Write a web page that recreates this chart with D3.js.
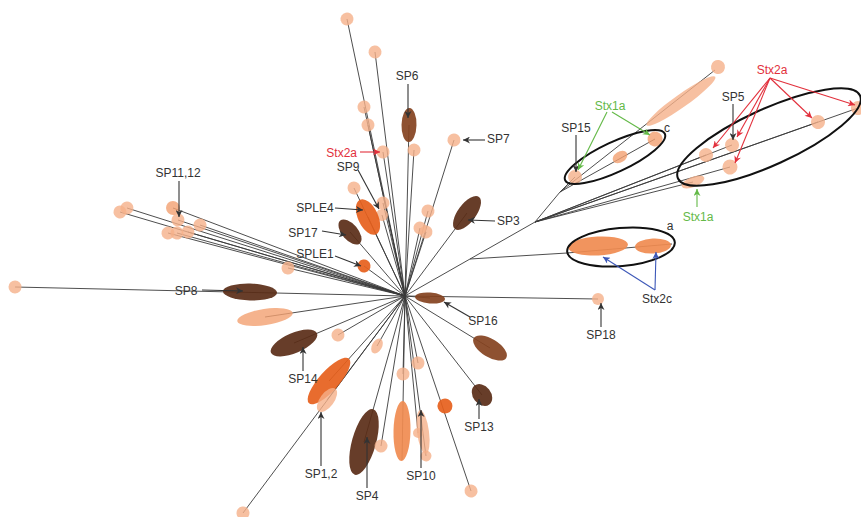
<!DOCTYPE html>
<html>
<head>
<meta charset="utf-8">
<script src="https://cdn.jsdelivr.net/npm/d3@7"></script>
<style>
body { margin: 0; background: #fff; }
svg { display: block; }
text { font-family: "Liberation Sans", Arial, sans-serif; font-size: 12px; }
</style>
</head>
<body>
<svg id="canvas"></svg>
<script>
let width = 861;
let height = 517;

// tree nodes: id, parent, x, y (branch length units, root at 0,0)
let nodes = [
	['root', null, 0, 0],
	['t1', 'root', -0.58, 2.77],
	['t1b', 'root', -0.41, 1.89],
	['t1c', 'root', -0.37, 1.71],
	['t2', 'root', -0.30, 2.44],
	['sp6', 'root', 0.04, 1.71],
	['t4', 'root', 0.09, 1.46],
	['sp7', 'root', 0.49, 1.56],
	['stx', 'root', -0.22, 1.44],
	['sp9a', 'root', -0.51, 1.08],
	['sp9b', 'root', -0.22, 0.93],
	['sp9c', 'root', -0.23, 0.81],
	['sple4', 'root', -0.37, 0.79],
	['sp17', 'root', -0.55, 0.64],
	['sple1', 'root', -0.41, 0.30],
	['k1', 'root', -2.85, 0.84],
	['k2', 'root', -2.78, 0.88],
	['k3', 'root', -2.32, 0.88],
	['k4', 'root', -2.27, 0.76],
	['k5', 'root', -2.05, 0.71],
	['k6', 'root', -2.37, 0.63],
	['k7', 'root', -2.28, 0.63],
	['k8', 'root', -2.17, 0.64],
	['k9', 'root', -1.17, 0.28],
	['sp8', 'root', -3.90, 0.09],
	['l1', 'root', -1.40, -0.21],
	['sp14', 'root', -1.11, -0.47],
	['l3', 'root', -0.67, -0.39],
	['l4', 'root', -0.28, -0.50],
	['sp1', 'root', -0.76, -0.85],
	['sp2', 'root', -0.78, -1.04],
	['l7', 'root', -1.62, -2.17],
	['sp4', 'root', -0.41, -1.46],
	['l9', 'root', -0.24, -1.50],
	['sp10', 'root', -0.03, -1.64],
	['m1', 'root', -0.02, -0.78],
	['m2', 'root', 0.13, -0.67],
	['m3', 'root', 0.21, -1.60],
	['m4', 'root', 0.13, -1.37],
	['m5', 'root', 0.66, -1.95],
	['sp13', 'root', 0.77, -0.99],
	['m7', 'root', 0.85, -0.52],
	['sp16', 'root', 0.25, -0.02],
	['sp18', 'root', 1.93, -0.03],
	['sp3', 'root', 0.62, 0.83],
	['r1', 'root', 0.23, 0.85],
	['r2', 'root', 0.15, 0.68],
	['r3', 'root', 0.21, 0.64],
	['n1', 'root', 0.65, 0.37],
	['na', 'n1', 1.62, 0.43],
	['a', 'na', 2.67, 0.52],
	['n2', 'n1', 1.30, 0.74],
	['nc', 'n2', 1.55, 1.04],
	['sp15', 'nc', 1.70, 1.19],
	['cc', 'nc', 2.50, 1.57],
	['ctop', 'nc', 3.10, 2.26],
	['s1', 'n2', 4.53, 1.88],
	['s2', 'n2', 4.13, 1.74],
	['s3', 'n2', 3.25, 1.29],
	['s4', 'n2', 3.27, 1.51],
	['s5', 'n2', 3.01, 1.41],
	['s6', 'n2', 2.88, 1.14]
];

// strain groups: x, y, half length, half width, group, tilt (optional)
let markers = [
	[-0.58, 2.77, 0.065, 0.065, 'light'],
	[-0.41, 1.89, 0.065, 0.065, 'light'],
	[-0.37, 1.71, 0.065, 0.065, 'light'],
	[-0.30, 2.44, 0.065, 0.065, 'light'],
	[0.04, 1.71, 0.17, 0.075, 'brown'],
	[0.09, 1.46, 0.065, 0.065, 'light'],
	[0.49, 1.56, 0.065, 0.065, 'light'],
	[-0.22, 1.44, 0.065, 0.065, 'light'],
	[-0.51, 1.08, 0.065, 0.065, 'light'],
	[-0.22, 0.93, 0.065, 0.065, 'light'],
	[-0.23, 0.81, 0.06, 0.06, 'light'],
	[-0.37, 0.79, 0.19, 0.10, 'orange'],
	[-0.55, 0.64, 0.15, 0.08, 'dark'],
	[-0.41, 0.30, 0.065, 0.065, 'orange'],
	[-2.85, 0.84, 0.065, 0.065, 'light'],
	[-2.78, 0.88, 0.065, 0.065, 'light'],
	[-2.32, 0.88, 0.07, 0.07, 'peach'],
	[-2.27, 0.76, 0.065, 0.065, 'light'],
	[-2.05, 0.71, 0.065, 0.065, 'light'],
	[-2.37, 0.63, 0.065, 0.065, 'light'],
	[-2.28, 0.63, 0.065, 0.065, 'light'],
	[-2.17, 0.64, 0.065, 0.065, 'light'],
	[-1.17, 0.28, 0.065, 0.065, 'light'],
	[-3.90, 0.09, 0.065, 0.065, 'light'],
	[-1.55, 0.04, 0.27, 0.085, 'dark'],
	[-1.40, -0.21, 0.28, 0.08, 'peach'],
	[-1.11, -0.47, 0.25, 0.10, 'dark'],
	[-0.67, -0.39, 0.065, 0.065, 'light'],
	[-0.28, -0.50, 0.08, 0.05, 'light'],
	[-0.76, -0.85, 0.30, 0.10, 'orange'],
	[-0.78, -1.04, 0.14, 0.07, 'light'],
	[-1.62, -2.17, 0.065, 0.065, 'light'],
	[-0.41, -1.46, 0.34, 0.12, 'dark'],
	[-0.24, -1.50, 0.065, 0.065, 'light'],
	[-0.03, -1.35, 0.30, 0.085, 'mid'],
	[-0.02, -0.78, 0.065, 0.065, 'light'],
	[0.13, -0.67, 0.065, 0.065, 'light'],
	[0.18, -1.36, 0.22, 0.06, 'light'],
	[0.13, -1.37, 0.05, 0.05, 'light'],
	[0.21, -1.60, 0.055, 0.055, 'light'],
	[0.40, -1.10, 0.075, 0.075, 'orange'],
	[0.66, -1.95, 0.065, 0.065, 'light'],
	[0.77, -0.99, 0.12, 0.09, 'dark'],
	[0.85, -0.52, 0.19, 0.09, 'brown'],
	[0.25, -0.02, 0.15, 0.055, 'brown'],
	[1.93, -0.03, 0.06, 0.06, 'light'],
	[0.62, 0.83, 0.20, 0.09, 'dark'],
	[0.23, 0.85, 0.065, 0.065, 'light'],
	[0.15, 0.68, 0.065, 0.065, 'light'],
	[0.21, 0.64, 0.065, 0.065, 'light'],
	[1.93, 0.50, 0.30, 0.095, 'mid', -3],
	[2.48, 0.50, 0.18, 0.075, 'mid', -3],
	[1.70, 1.19, 0.07, 0.07, 'light'],
	[2.15, 1.39, 0.08, 0.055, 'peach'],
	[2.50, 1.57, 0.075, 0.075, 'peach'],
	[2.76, 1.95, 0.42, 0.065, 'light'],
	[3.13, 2.29, 0.07, 0.07, 'light'],
	[4.53, 1.88, 0.07, 0.07, 'light'],
	[4.13, 1.74, 0.07, 0.07, 'light'],
	[3.25, 1.29, 0.075, 0.075, 'light'],
	[3.27, 1.51, 0.07, 0.07, 'light'],
	[3.01, 1.41, 0.07, 0.07, 'light'],
	[2.88, 1.14, 0.12, 0.05, 'light']
];

// outlined clusters: cx, cy, rx, ry, tilt
let clusters = [
	[2.10, 1.39, 0.55, 0.15, -25],
	[3.64, 1.59, 1.00, 0.28, -24.5],
	[2.16, 0.49, 0.54, 0.19, -5]
];

// labels: text, x, y, anchor, colour
let labels = [
	['SP6', 0.02, 2.20, 'middle', 'black'],
	['SP7', 0.82, 1.57, 'start', 'black'],
	['Stx2a', -0.48, 1.43, 'end', 'red'],
	['SP9', -0.57, 1.29, 'middle', 'black'],
	['SPLE4', -0.90, 0.88, 'middle', 'black'],
	['SP17', -1.02, 0.63, 'middle', 'black'],
	['SPLE1', -0.90, 0.42, 'middle', 'black'],
	['SP11,12', -2.27, 1.23, 'middle', 'black'],
	['SP8', -2.19, 0.05, 'middle', 'black'],
	['SP14', -1.02, -0.83, 'middle', 'black'],
	['SP1,2', -0.84, -1.78, 'middle', 'black'],
	['SP4', -0.38, -2.00, 'middle', 'black'],
	['SP10', 0.16, -1.80, 'middle', 'black'],
	['SP13', 0.74, -1.31, 'middle', 'black'],
	['SP16', 0.78, -0.25, 'middle', 'black'],
	['SP18', 1.96, -0.39, 'middle', 'black'],
	['SP3', 0.92, 0.75, 'start', 'black'],
	['Stx2c', 2.52, -0.03, 'middle', 'black'],
	['a', 2.65, 0.70, 'middle', 'black'],
	['SP15', 1.71, 1.68, 'middle', 'black'],
	['Stx1a', 2.05, 1.90, 'middle', 'green'],
	['c', 2.62, 1.68, 'middle', 'black'],
	['SP5', 3.28, 1.99, 'middle', 'black'],
	['Stx2a', 3.67, 2.26, 'middle', 'red'],
	['Stx1a', 2.93, 0.79, 'middle', 'green']
];

// arrows: x1, y1, x2, y2, colour
let arrows = [
	[0.03, 2.12, 0.03, 1.78, 'black'],
	[0.80, 1.56, 0.58, 1.56, 'black'],
	[-0.45, 1.44, -0.25, 1.44, 'red'],
	[-0.47, 1.26, -0.26, 0.87, 'black'],
	[-0.70, 0.88, -0.42, 0.86, 'black'],
	[-0.83, 0.65, -0.59, 0.61, 'black'],
	[-0.70, 0.40, -0.44, 0.30, 'black'],
	[-2.26, 1.15, -2.26, 0.79, 'black'],
	[-2.03, 0.06, -1.62, 0.05, 'black'],
	[-1.02, -0.75, -1.02, -0.51, 'black'],
	[-0.84, -1.70, -0.84, -1.16, 'black'],
	[-0.38, -1.92, -0.38, -1.41, 'black'],
	[0.16, -1.72, 0.16, -1.14, 'black'],
	[0.74, -1.23, 0.74, -1.03, 'black'],
	[0.65, -0.21, 0.39, -0.06, 'black'],
	[1.96, -0.31, 1.96, -0.07, 'black'],
	[0.90, 0.75, 0.63, 0.76, 'black'],
	[2.50, 0.06, 1.98, 0.39, 'blue'],
	[2.50, 0.06, 2.51, 0.44, 'blue'],
	[1.71, 1.61, 1.71, 1.24, 'black'],
	[2.02, 1.84, 1.73, 1.26, 'green'],
	[2.07, 1.84, 2.45, 1.61, 'green'],
	[3.28, 1.92, 3.28, 1.56, 'black'],
	[3.65, 2.18, 3.08, 1.48, 'red'],
	[3.65, 2.18, 3.32, 1.59, 'red'],
	[3.65, 2.18, 3.30, 1.33, 'red'],
	[3.65, 2.18, 4.07, 1.78, 'red'],
	[3.65, 2.18, 4.50, 1.91, 'red'],
	[2.92, 0.89, 2.92, 1.07, 'green']
];

let groups = ['light', 'peach', 'mid', 'orange', 'brown', 'dark'];
let groupColours = ['#f5b089', '#f2a070', '#f08b50', '#e6601c', '#84421f', '#5a2d17'];
let inkNames = ['black', 'red', 'green', 'blue'];
let inkColours = ['#333333', '#e2303c', '#63b947', '#3d58b8'];

let xScale = d3.scaleLinear().domain([-4.05, 4.56]).range([0, width]);
let yScale = d3.scaleLinear().domain([2.96, -2.21]).range([0, height]);
let sizeScale = d3.scaleLinear().domain([0, 1]).range([0, 100]);
let fillScale = d3.scaleOrdinal().domain(groups).range(groupColours);
let inkScale = d3.scaleOrdinal().domain(inkNames).range(inkColours);

let canvas = d3.select('#canvas').attr('width', width).attr('height', height);

let byId = new Map(nodes.map(n => [n[0], n]));

// arrowheads
let defs = canvas.append('defs');
inkNames.forEach(name => {
	defs.append('marker')
		.attr('id', 'head-' + name)
		.attr('viewBox', '0 0 10 10')
		.attr('refX', 10)
		.attr('refY', 5)
		.attr('markerWidth', 9)
		.attr('markerHeight', 7)
		.attr('markerUnits', 'userSpaceOnUse')
		.attr('orient', 'auto')
		.append('path')
		.attr('d', 'M0,0 L10,5 L0,10 L3,5 Z')
		.attr('fill', inkScale(name));
});

// branches
canvas.append('g')
	.selectAll('line')
	.data(nodes.filter(n => n[1]))
	.join('line')
	.attr('x1', d => xScale(byId.get(d[1])[2]))
	.attr('y1', d => yScale(byId.get(d[1])[3]))
	.attr('x2', d => xScale(d[2]))
	.attr('y2', d => yScale(d[3]))
	.attr('stroke', '#3a3a3a')
	.attr('stroke-width', 0.9);

// strain groups
let tiltOf = d => (d[5] !== undefined ? d[5] : -Math.atan2(d[1], d[0]) * 180 / Math.PI);
canvas.append('g')
	.selectAll('ellipse')
	.data(markers)
	.join('ellipse')
	.attr('cx', d => xScale(d[0]))
	.attr('cy', d => yScale(d[1]))
	.attr('rx', d => sizeScale(d[2]))
	.attr('ry', d => sizeScale(d[3]))
	.attr('transform', d => `rotate(${tiltOf(d)}, ${xScale(d[0])}, ${yScale(d[1])})`)
	.attr('fill', d => fillScale(d[4]))
	.attr('fill-opacity', d => (d[4] === 'light' || d[4] === 'peach' ? 0.8 : 0.92));

// outlined clusters
canvas.append('g')
	.selectAll('ellipse')
	.data(clusters)
	.join('ellipse')
	.attr('cx', d => xScale(d[0]))
	.attr('cy', d => yScale(d[1]))
	.attr('rx', d => sizeScale(d[2]))
	.attr('ry', d => sizeScale(d[3]))
	.attr('transform', d => `rotate(${d[4]}, ${xScale(d[0])}, ${yScale(d[1])})`)
	.attr('fill', 'none')
	.attr('stroke', '#111')
	.attr('stroke-width', 2);

// arrows
canvas.append('g')
	.selectAll('line')
	.data(arrows)
	.join('line')
	.attr('x1', d => xScale(d[0]))
	.attr('y1', d => yScale(d[1]))
	.attr('x2', d => xScale(d[2]))
	.attr('y2', d => yScale(d[3]))
	.attr('stroke', d => inkScale(d[4]))
	.attr('stroke-width', 1.1)
	.attr('marker-end', d => `url(#head-${d[4]})`);

// labels
canvas.append('g')
	.selectAll('text')
	.data(labels)
	.join('text')
	.attr('x', d => xScale(d[1]))
	.attr('y', d => yScale(d[2]))
	.attr('dy', '0.35em')
	.attr('text-anchor', d => d[3])
	.attr('fill', d => inkScale(d[4]))
	.text(d => d[0]);
</script>
</body>
</html>
